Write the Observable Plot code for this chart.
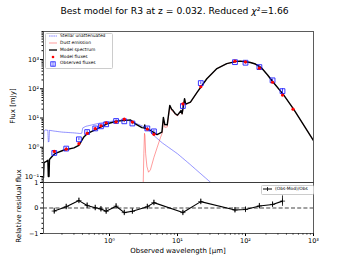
<!DOCTYPE html>
<html><head><meta charset="utf-8">
<script src="https://cdn.jsdelivr.net/npm/d3@7"></script>
<script src="https://cdn.jsdelivr.net/npm/@observablehq/plot@0.6"></script>
<style>
body{margin:0;background:#fff;}
#wrap{position:relative;width:349px;height:262px;font-family:"DejaVu Sans",sans-serif;overflow:hidden;background:#fff;color:#000;}
#title{position:absolute;left:0;width:349px;top:5.5px;text-align:center;font-size:9.2px;line-height:1;white-space:nowrap;}
#main,#resid{position:absolute;left:0;}
#main{top:0}
#resid{top:182px}
.lab{position:absolute;font-size:7px;white-space:nowrap;line-height:1;}
.rot{transform:translate(-50%,-50%) rotate(-90deg);}
.legbox{position:absolute;background:rgba(255,255,255,0.85);border:0.6px solid #ccc;border-radius:1.5px;}
.li{position:absolute;font-size:4.4px;line-height:1;white-space:nowrap;}
</style></head>
<body>
<div id="wrap">
  <div id="title">Best model for R3 at z = 0.032. Reduced <i>χ</i>²=1.66</div>
  <div id="main"></div>
  <div id="resid"></div>
  <div class="lab rot" style="left:12.5px;top:106px;">Flux [mJy]</div>
  <div class="lab rot" style="left:18.5px;top:206px;">Relative residual flux</div>
  <div class="lab" style="left:178px;top:248px;transform:translateX(-50%);">Observed wavelength [μm]</div>
  <div class="legbox" style="left:44.5px;top:32.5px;width:66px;height:34px;"></div>
  <div class="legbox" style="left:261px;top:184.5px;width:51px;height:8.5px;"></div>
  <div id="leg"></div>
</div>
<script>
// ---------- data ----------
const modelWave = [0.107,0.109,0.118,0.124,0.126,0.129,0.131,0.145,0.16,0.21,0.30,0.354,0.375,0.42,0.47,0.59,0.74,0.92,1.05,1.3,1.72,2.04,2.4,3.0,3.2,3.25,3.3,3.35,4.0,5.0,5.9,6.2,6.5,7.06,7.7,8.2,8.6,9.3,10.0,11.3,11.7,12.7,13.2,15.5,19.5,27,38,53,74,84,106,118,140,170,210,254,359,510,1000];
const modelFlux = [0.09,0.30,0.33,0.36,0.10,0.10,0.38,0.50,0.62,0.79,0.95,1.17,1.45,2.25,2.9,3.8,4.9,6.3,6.9,7.8,8.3,8.6,6.3,4.7,4.6,4.5,5.8,4.4,3.8,2.7,3.3,10.5,6.0,5.8,27,20,18,14,12.5,18,14,46,30,35,77,220,490,720,860,880,820,790,700,530,300,170,64,20,1.7];

const starWave = [0.107,0.109,0.115,0.124,0.126,0.129,0.131,0.15,0.2,0.3,0.37,0.39,0.405,0.45,0.55,0.7,0.92,1.3,1.7,2.1,2.6,3.4,4.5,6,10,15,20,30,40];
const starFlux = [1.5,3.6,3.9,3.8,1.5,1.6,3.8,3.6,3.3,3.1,2.95,3.0,4.6,5.2,5.8,6.6,7.3,8.3,8.6,7.8,6.2,4.8,2.5,1.4,0.6,0.27,0.15,0.066,0.035];

const dustWave = [3.12,3.2,3.27,3.32,3.4,3.55,3.75,4.0,4.5,5.0,5.6,6.0,6.2,6.5,7.06,7.7,8.2,8.6,9.3,10.0,11.3,11.7,12.7,13.2,15.5,19.5,27,38,53,74,84,106,118,140,170,210,254,359,510,1000];
const dustFlux = [0.04,0.6,3.0,2.5,0.6,0.22,0.14,0.17,0.45,0.95,2.1,3.2,9.0,4.8,4.9,25,18,16.5,13,11.8,17,13.5,44,29,34,76,219,489,719,859,879,819,789,699,529,299,169,64,20,1.7];

const obsWave = [0.154,0.231,0.355,0.469,0.617,0.748,0.893,1.25,1.65,2.17,3.6,4.5,12,22,70,100,160,250,350];
const obsFlux = [0.64,0.90,1.87,3.3,4.4,5.2,6.1,7.9,7.7,6.5,4.4,3.5,25.7,156,812,776,550,194,83];
const obsErr  = [0.07,0.09,0.19,0.33,0.44,0.52,0.61,0.79,0.77,0.64,0.44,0.35,2.6,16,81,78,55,19,17];

const modPtWave = [0.154,0.231,0.355,0.469,0.617,0.748,0.893,1.25,1.65,2.17,3.6,4.5,12,22,70,100,160,250,350,500];
const modPtFlux = [0.72,0.86,1.33,2.97,4.36,5.41,6.89,7.35,9.09,7.23,4.18,2.77,30.3,117,877,823,506,167,61,20];

const residual = [-0.12,0.05,0.29,0.10,0.01,-0.04,-0.13,0.07,-0.18,-0.13,0.05,0.21,-0.18,0.25,-0.08,-0.06,0.08,0.14,0.27];

const xTicks = [1,10,100,1000];
const yTicks = [0.1,1,10,100,1000];
const rTicks = [-1,0,1];

// ---------- helpers ----------
const zip = (xs, ys) => xs.map((x,i)=>({x, y: ys[i]}));
const sup = d => { const e = Math.round(Math.log10(d)); const m = {"-":"⁻","0":"⁰","1":"¹","2":"²","3":"³","4":"⁴"}; return "10" + String(e).split("").map(c=>m[c]).join(""); };
const minorLog = (lo, hi) => { const out=[]; for (let e=-2;e<=4;e++) for (let k=2;k<=9;k++){const v=k*Math.pow(10,e); if(v>=lo&&v<=hi) out.push(v);} return out; };
const xDomain = [0.107, 1000];
const yDomain = [0.0624, 9060];

const model = zip(modelWave, modelFlux);
const star = zip(starWave, starFlux);
const dust = zip(dustWave, dustFlux);
const obs = obsWave.map((x,i)=>({x, y: obsFlux[i], lo: obsFlux[i]-obsErr[i], hi: obsFlux[i]+obsErr[i]}));
const modPts = zip(modPtWave, modPtFlux);
const res = obsWave.map((x,i)=>({x, r: residual[i], e: obsErr[i]/obsFlux[i]}));

const style = {fontFamily:"DejaVu Sans", fontSize:"6.5px", background:"transparent", overflow:"visible", color:"#000"};

const main = Plot.plot({
  width: 349, height: 182,
  marginLeft: 43, marginRight: 36, marginTop: 31, marginBottom: 0,
  style,
  x: {type:"log", domain: xDomain, axis: null},
  y: {type:"log", domain: yDomain},
  marks: [
    Plot.line(star, {x:"x", y:"y", stroke:"#3a3aff", strokeWidth:0.6, strokeOpacity:0.85, strokeDasharray:"1.6,0.6", clip:true}),
    Plot.line(dust, {x:"x", y:"y", stroke:"#ff3030", strokeWidth:0.6, strokeOpacity:0.8, clip:true}),
    Plot.line(model, {x:"x", y:"y", stroke:"#000", strokeWidth:1.4, clip:true}),
    Plot.ruleX(obs, {x:"x", y1:"lo", y2:"hi", stroke:"#1010ff", strokeWidth:0.8}),
    Plot.dot(obs, {x:"x", y:"y", symbol:"square", r:2.7, stroke:"#2020ff", fill:"none", strokeWidth:0.9}),
    Plot.dot(modPts, {x:"x", y:"y", r:1.6, fill:"#ff0000", stroke:"none"}),
    Plot.axisY(yTicks, {tickSize:3, tickPadding:1.5, tickFormat: sup, label:null}),
    Plot.axisY(minorLog(yDomain[0], yDomain[1]), {tickSize:1.5, fill:"none", label:null}),
    Plot.frame({stroke:"#333", strokeWidth:0.8})
  ]
});
document.getElementById("main").appendChild(main);

const resid = Plot.plot({
  width: 349, height: 80,
  marginLeft: 43, marginRight: 36, marginTop: 0, marginBottom: 29,
  style,
  x: {type:"log", domain: xDomain},
  y: {domain: [-1, 1]},
  marks: [
    Plot.ruleY([0], {stroke:"#444", strokeWidth:1.2, strokeDasharray:"4,2.2"}),
    Plot.ruleX(res, {x:"x", y1: d=>d.r-d.e, y2: d=>d.r+d.e, stroke:"#000", strokeWidth:0.8}),
    Plot.line(res, {x:"x", y:"r", stroke:"#000", strokeWidth:1.1}),
    Plot.dot(res, {x:"x", y:"r", symbol:"plus", r:1.8, stroke:"#000", strokeWidth:0.7}),
    Plot.axisX(xTicks, {tickSize:3, tickPadding:2, tickFormat: sup, label:null}),
    Plot.axisX(minorLog(xDomain[0], xDomain[1]), {tickSize:1.5, fill:"none", label:null}),
    Plot.axisY(rTicks, {tickSize:3, tickPadding:2, tickFormat: d => d < 0 ? "−" + Math.abs(d) : String(d), label:null}),
    Plot.axisY(d3.range(-0.8, 0.81, 0.2).filter(v=>Math.abs(v)>1e-6), {tickSize:1.5, fill:"none", label:null}),
    Plot.frame({stroke:"#333", strokeWidth:0.8})
  ]
});
document.getElementById("resid").appendChild(resid);

// ---------- legends ----------
const legItems = [
  {label:"Stellar unattenuated", y:36, kind:"star"},
  {label:"Dust emission", y:43, kind:"dust"},
  {label:"Model spectrum", y:50, kind:"model"},
  {label:"Model fluxes", y:57, kind:"mpt"},
  {label:"Observed fluxes", y:63.5, kind:"obs"},
  {label:"(Obs-Mod)/Obs", y:188.8, kind:"res", x0:263, tx:275}
];
const leg = document.getElementById("leg");
legItems.forEach(it => {
  const x0 = it.x0 ?? 48.5, tx = it.tx ?? 60;
  let sw = "";
  if (it.kind==="star") sw = `<line x1="0" x2="8" y1="0" y2="0" stroke="#3a3aff" stroke-width="0.6" stroke-dasharray="1.6,0.6"/>`;
  if (it.kind==="dust") sw = `<line x1="0" x2="8" y1="0" y2="0" stroke="#ff3030" stroke-opacity="0.8" stroke-width="0.6"/>`;
  if (it.kind==="model") sw = `<line x1="0" x2="8" y1="0" y2="0" stroke="#000" stroke-width="1.3"/>`;
  if (it.kind==="mpt") sw = `<circle cx="4" cy="0" r="1.3" fill="#ff0000"/>`;
  if (it.kind==="obs") sw = `<rect x="1.8" y="-2.2" width="4.4" height="4.4" fill="none" stroke="#2020ff" stroke-width="0.9"/><line x1="4" x2="4" y1="-2.2" y2="2.2" stroke="#2020ff" stroke-width="0.7"/>`;
  if (it.kind==="res") sw = `<line x1="0" x2="9" y1="0" y2="0" stroke="#000" stroke-width="1"/><line x1="4.5" x2="4.5" y1="-2" y2="2" stroke="#000" stroke-width="0.8"/>`;
  const d = document.createElement("div");
  d.innerHTML = `<svg style="position:absolute;left:${x0}px;top:${it.y}px;overflow:visible;" width="10" height="1">${sw}</svg><div class="li" style="left:${tx}px;top:${it.y-2.3}px;">${it.label}</div>`;
  leg.appendChild(d);
});
</script>
</body></html>
